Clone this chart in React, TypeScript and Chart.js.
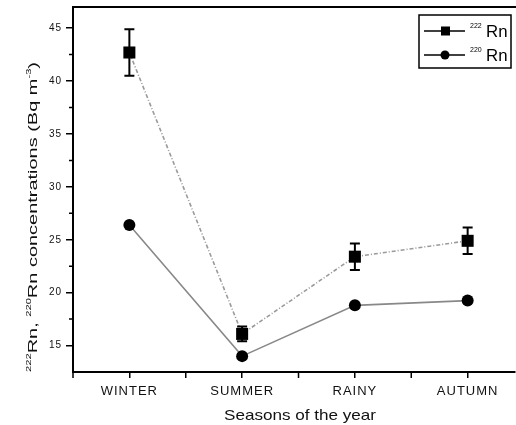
import React, { useEffect, useRef } from 'react';
import { Chart, registerables } from 'chart.js';

Chart.register(...registerables);

const seasons = ['WINTER', 'SUMMER', 'RAINY', 'AUTUMN'];
const rn222 = [42.7, 16.1, 23.4, 24.9];
const rn222Err = [2.2, 0.7, 1.25, 1.25];
const rn220 = [26.4, 14.0, 18.8, 19.25];
const yMajorTicks = [15, 20, 25, 30, 35, 40, 45];
const yMinorTicks = [17.5, 22.5, 27.5, 32.5, 37.5, 42.5];
const xMinorTicks = [-0.5, 0.5, 1.5, 2.5];
const xTitle = 'Seasons of the year';
const legendLabels = [
  { sup: '222', main: 'Rn' },
  { sup: '220', main: 'Rn' },
];
const yTitleParts = [
  { t: '222', sup: true },
  { t: 'Rn, ', sup: false },
  { t: '220', sup: true },
  { t: 'Rn concentrations (Bq m', sup: false },
  { t: '-3', sup: true },
  { t: ')', sup: false },
];

const FONT = '"Liberation Sans", Arial, sans-serif';

const spacingPlugin = {
  id: 'spacing',
  beforeDraw(chart: any) {
    (chart.ctx as any).letterSpacing = '1px';
  },
  afterDatasetsDraw(chart: any) {
    (chart.ctx as any).letterSpacing = '0px';
  },
};

const errorBarPlugin = {
  id: 'errorBars',
  afterDatasetsDraw(chart: any) {
    const { ctx, scales } = chart;
    const x = scales.x;
    const y = scales.y;
    ctx.save();
    ctx.strokeStyle = '#000';
    ctx.lineWidth = 2;
    rn222.forEach((v, i) => {
      const px = x.getPixelForValue(i);
      const top = y.getPixelForValue(v + rn222Err[i]);
      const bot = y.getPixelForValue(v - rn222Err[i]);
      ctx.beginPath();
      ctx.moveTo(px, top);
      ctx.lineTo(px, bot);
      ctx.moveTo(px - 5, top);
      ctx.lineTo(px + 5, top);
      ctx.moveTo(px - 5, bot);
      ctx.lineTo(px + 5, bot);
      ctx.stroke();
    });
    ctx.restore();
  },
};

function drawFitted(ctx: CanvasRenderingContext2D, parts: { t: string; sup: boolean }[], mainSize: number, supSize: number, targetWidth: number) {
  const mainFont = `${mainSize}px ${FONT}`;
  const supFont = `${supSize}px ${FONT}`;
  let total = 0;
  const widths = parts.map((p) => {
    ctx.font = p.sup ? supFont : mainFont;
    const w = ctx.measureText(p.t).width;
    total += w;
    return w;
  });
  const sx = targetWidth / total;
  ctx.scale(sx, 1);
  let cx = -total / 2;
  parts.forEach((p, i) => {
    ctx.font = p.sup ? supFont : mainFont;
    ctx.fillText(p.t, cx, p.sup ? -mainSize * 0.45 : 0);
    cx += widths[i];
  });
}

const decorPlugin = {
  id: 'decor',
  afterDraw(chart: any) {
    const { ctx, chartArea: a, scales } = chart;
    const x = scales.x;
    const y = scales.y;
    ctx.save();
    (ctx as any).letterSpacing = '0px';
    // top frame line
    ctx.strokeStyle = '#000';
    ctx.lineWidth = 2;
    ctx.beginPath();
    ctx.moveTo(a.left - 1, a.top);
    ctx.lineTo(a.right + 1, a.top);
    ctx.stroke();
    // minor ticks
    ctx.lineWidth = 1.5;
    ctx.beginPath();
    yMinorTicks.forEach((v) => {
      const py = y.getPixelForValue(v);
      ctx.moveTo(a.left - 4, py);
      ctx.lineTo(a.left, py);
    });
    xMinorTicks.forEach((v) => {
      const px = x.getPixelForValue(v);
      ctx.moveTo(px, a.bottom);
      ctx.lineTo(px, a.bottom + 6);
    });
    ctx.stroke();

    // x title
    ctx.fillStyle = '#111';
    ctx.textBaseline = 'alphabetic';
    ctx.save();
    ctx.translate((a.left + a.right) / 2 + 6, 420);
    drawFitted(ctx, [{ t: xTitle, sup: false }], 15, 8, 152);
    ctx.restore();

    // y title
    ctx.save();
    ctx.translate(37, 217);
    ctx.rotate(-Math.PI / 2);
    drawFitted(ctx, yTitleParts, 12.5, 7, 310);
    ctx.restore();

    // legend
    const bx = a.right - 96;
    const by = a.top + 8;
    const bw = 92;
    const bh = 53;
    ctx.fillStyle = '#fff';
    ctx.fillRect(bx, by, bw, bh);
    ctx.strokeStyle = '#000';
    ctx.lineWidth = 1.5;
    ctx.strokeRect(bx, by, bw, bh);
    legendLabels.forEach((lab, i) => {
      const cy = by + 16 + i * 24;
      ctx.strokeStyle = '#000';
      ctx.lineWidth = 1.3;
      ctx.beginPath();
      ctx.moveTo(bx + 5, cy);
      ctx.lineTo(bx + 46, cy);
      ctx.stroke();
      ctx.fillStyle = '#000';
      if (i === 0) {
        ctx.fillRect(bx + 22, cy - 4.5, 9, 9);
      } else {
        ctx.beginPath();
        ctx.arc(bx + 26, cy, 4.5, 0, Math.PI * 2);
        ctx.fill();
      }
      ctx.font = `7px ${FONT}`;
      ctx.textAlign = 'left';
      ctx.fillText(lab.sup, bx + 51, cy - 3);
      ctx.font = `16px ${FONT}`;
      ctx.save();
      ctx.translate(bx + 67, cy + 6);
      ctx.scale(1.05, 1);
      ctx.fillText(lab.main, 0, 0);
      ctx.restore();
    });
    ctx.restore();
  },
};

export default function App() {
  const ref = useRef<HTMLCanvasElement | null>(null);
  useEffect(() => {
    if (!ref.current) return;
    const chart = new Chart(ref.current, {
      type: 'line',
      data: {
        datasets: [
          {
            label: '222Rn',
            data: rn222.map((v, i) => ({ x: i, y: v })),
            borderColor: '#9a9a9a',
            borderWidth: 1.6,
            borderDash: [4, 2, 1, 2],
            pointStyle: 'rect',
            pointRadius: 8.5,
            pointBackgroundColor: '#000',
            pointBorderColor: '#000',
            pointBorderWidth: 0,
          },
          {
            label: '220Rn',
            data: rn220.map((v, i) => ({ x: i, y: v })),
            borderColor: '#888',
            borderWidth: 1.6,
            pointStyle: 'circle',
            pointRadius: 6,
            pointBackgroundColor: '#000',
            pointBorderColor: '#000',
            pointBorderWidth: 0,
          },
        ],
      },
      options: {
        responsive: false,
        animation: false,
        layout: { autoPadding: false, padding: { left: 0, right: 1, top: 7, bottom: 0 } },
        plugins: { legend: { display: false }, tooltip: { enabled: false } },
        scales: {
          x: {
            type: 'linear',
            min: -0.5,
            max: 3.42,
            afterBuildTicks: (s: any) => {
              s.ticks = seasons.map((_, i) => ({ value: i }));
            },
            afterFit: (s: any) => {
              s.height = 53;
              s.paddingLeft = 0;
              s.paddingRight = 0;
            },
            ticks: {
              callback: (v: any) => seasons[Math.round(Number(v))] ?? '',
              font: { family: FONT, size: 13 },
              color: '#111',
              padding: 6,
              maxRotation: 0,
              autoSkip: false,
            },
            grid: { display: true, drawOnChartArea: false, drawTicks: true, tickLength: 6, color: '#000', lineWidth: 1.5 },
            border: { display: true, color: '#000', width: 2 },
          },
          y: {
            type: 'linear',
            min: 12.5,
            max: 47,
            afterBuildTicks: (s: any) => {
              s.ticks = yMajorTicks.map((v) => ({ value: v }));
            },
            afterFit: (s: any) => {
              s.width = 73;
              s.paddingTop = 0;
              s.paddingBottom = 0;
            },
            ticks: {
              font: { family: FONT, size: 10 },
              color: '#111',
              padding: 4,
            },
            grid: { display: true, drawOnChartArea: false, drawTicks: true, tickLength: 7, color: '#000', lineWidth: 1.5 },
            border: { display: true, color: '#000', width: 2 },
          },
        },
      },
      plugins: [spacingPlugin, errorBarPlugin, decorPlugin],
    });
    return () => chart.destroy();
  }, []);
  return (
    <div style={{ position: 'fixed', left: 0, top: 0, width: 516, height: 425, background: '#fff' }}>
      <canvas ref={ref} width={516} height={425} style={{ width: 516, height: 425, display: 'block' }} />
    </div>
  );
}
